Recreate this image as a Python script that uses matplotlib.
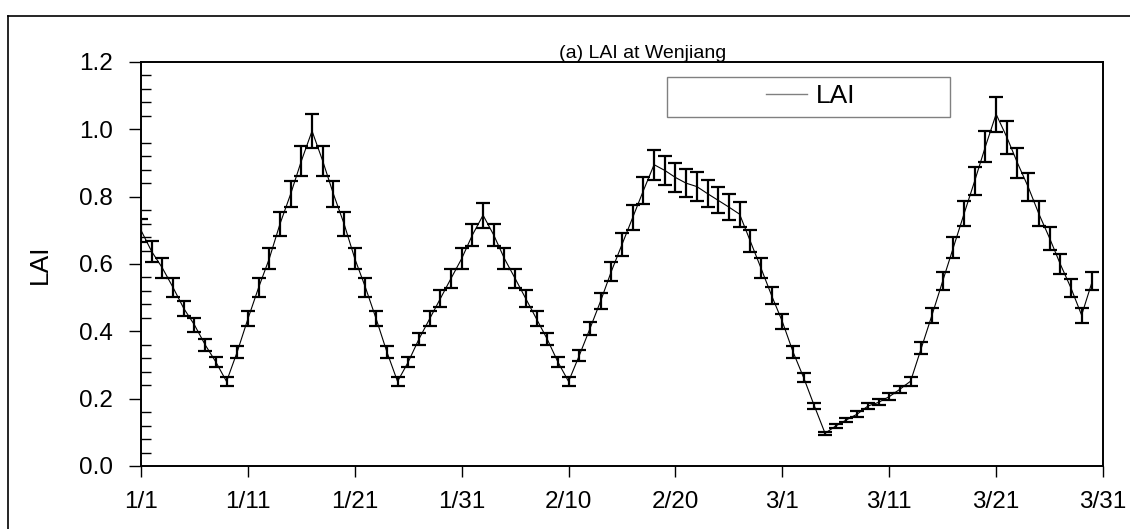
import numpy as np
import matplotlib
matplotlib.use("Agg")
import matplotlib.pyplot as plt
from matplotlib.lines import Line2D
from matplotlib.patches import Rectangle
from matplotlib.ticker import MultipleLocator, FormatStrFormatter

plt.rcParams["font.family"] = ["Liberation Sans", "DejaVu Sans"]

# daily LAI, 1/1 .. 3/30 (leap year)
lai = [0.70, 0.637, 0.588, 0.53, 0.468, 0.419, 0.36, 0.309, 0.251,
       0.339, 0.437, 0.53, 0.616, 0.719, 0.808, 0.906, 0.995,
       0.906, 0.808, 0.719, 0.616, 0.53, 0.437, 0.339, 0.251,
       0.309, 0.377, 0.437, 0.497, 0.557, 0.616, 0.686, 0.745,
       0.686, 0.616, 0.557, 0.497, 0.437, 0.377, 0.309, 0.251,
       0.328, 0.408, 0.49, 0.578, 0.658, 0.738, 0.818, 0.895,
       0.878, 0.857, 0.84, 0.83, 0.809, 0.789, 0.769, 0.748,
       0.668, 0.588, 0.506, 0.429, 0.339, 0.262, 0.178, 0.097,
       0.119, 0.137, 0.154, 0.178, 0.189, 0.206, 0.228, 0.252,
       0.35, 0.448, 0.549, 0.649, 0.749, 0.847, 0.949, 1.045,
       0.977, 0.90, 0.829, 0.749, 0.677, 0.60, 0.529, 0.448, 0.549]

lai_err = [0.035, 0.032, 0.029, 0.027, 0.023, 0.021, 0.018, 0.015, 0.013,
           0.017, 0.022, 0.027, 0.031, 0.036, 0.040, 0.045, 0.050,
           0.045, 0.040, 0.036, 0.031, 0.027, 0.022, 0.017, 0.013,
           0.015, 0.019, 0.022, 0.025, 0.028, 0.031, 0.034, 0.037,
           0.034, 0.031, 0.028, 0.025, 0.022, 0.019, 0.015, 0.013,
           0.016, 0.020, 0.025, 0.029, 0.033, 0.037, 0.041, 0.045,
           0.044, 0.043, 0.042, 0.042, 0.040, 0.039, 0.038, 0.037,
           0.033, 0.029, 0.025, 0.021, 0.017, 0.013, 0.009, 0.005,
           0.006, 0.007, 0.008, 0.009, 0.009, 0.010, 0.011, 0.013,
           0.018, 0.022, 0.027, 0.032, 0.037, 0.042, 0.047, 0.052,
           0.049, 0.045, 0.041, 0.037, 0.034, 0.030, 0.026, 0.022, 0.027]

date_labels = ["1/1", "1/11", "1/21", "1/31", "2/10", "2/20",
               "3/1", "3/11", "3/21", "3/31"]

days = np.arange(len(lai))

fig = plt.figure(figsize=(11.3, 5.29), dpi=100)
ax = fig.add_axes([0.1248, 0.1191, 0.8513, 0.7637])

ax.errorbar(days, lai, yerr=lai_err, fmt="none", ecolor="black",
            elinewidth=1.6, capsize=4.7, capthick=1.6, zorder=3)
ax.plot(days, lai, color="black", lw=0.8, zorder=4)

ax.set_xlim(0, 90)
ax.set_ylim(0, 1.2)
ax.set_xticks(np.arange(0, 91, 10))
ax.set_xticklabels(date_labels)
ax.yaxis.set_major_locator(MultipleLocator(0.2))
ax.yaxis.set_minor_locator(MultipleLocator(0.04))
ax.yaxis.set_major_formatter(FormatStrFormatter("%.1f"))

ax.tick_params(axis="y", which="major", direction="out", length=9,
               width=1, labelsize=17.5, pad=11)
ax.tick_params(axis="y", which="minor", direction="in", length=7, width=1)
ax.tick_params(axis="x", which="major", direction="out", length=8,
               width=1, labelsize=17.5, pad=10)
for sp in ax.spines.values():
    sp.set_linewidth(1.4)

ax.set_ylabel("LAI", fontsize=19, labelpad=20)
ax.set_title("(a) LAI at Wenjiang", fontsize=14, pad=1, x=0.521)

# legend: grey box plus handle
ax.add_patch(Rectangle((0.5465, 0.8646), 0.2945, 0.099, transform=ax.transAxes,
                       fill=False, edgecolor="#808080", lw=1, zorder=5))
handle = Line2D([], [], color="#808080", lw=1)
ax.legend([handle], ["LAI"], loc="center left", bbox_to_anchor=(0.6497, 0.916),
          frameon=False, borderpad=0, borderaxespad=0, fontsize=19,
          handlelength=1.55, handletextpad=0.35)

# outer frame of the original figure
fig.add_artist(Line2D([0.0071, 0.0071], [0.0, 0.9698], color="black", lw=1.2,
                      transform=fig.transFigure))
fig.add_artist(Line2D([0.0071, 1.0], [0.9698, 0.9698], color="black", lw=1.2,
                      transform=fig.transFigure))

fig.savefig("out.png", dpi=100)
